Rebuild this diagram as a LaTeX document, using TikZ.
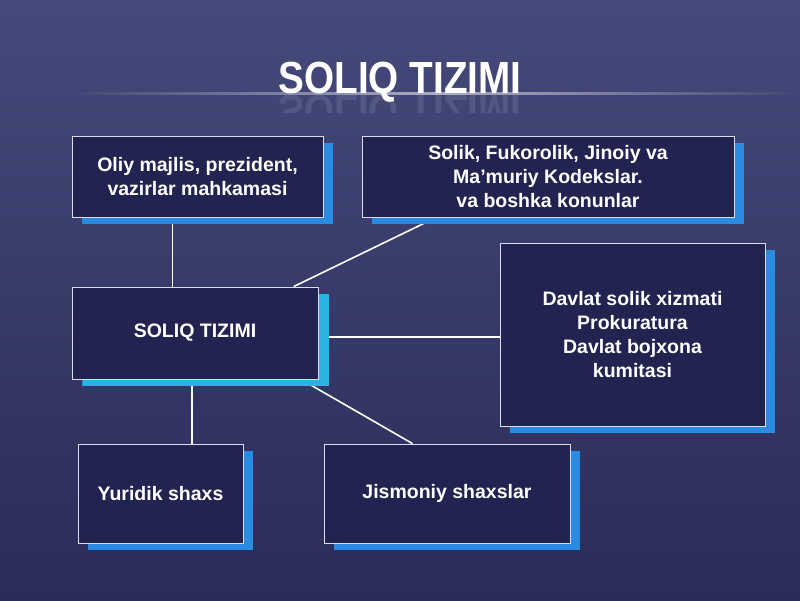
\documentclass[tikz,border=0pt]{standalone}
\usepackage{fontspec}
\setmainfont{Liberation Sans}
\usetikzlibrary{calc,shadows}
\pgfdeclarelayer{back}
\pgfdeclarelayer{lines}
\pgfsetlayers{back,lines,main}
\definecolor{bgtop}{HTML}{454A7A}
\definecolor{bgbot}{HTML}{2A2C5A}
\definecolor{boxfill}{HTML}{222350}
\definecolor{shblue}{HTML}{2A8CE0}
\definecolor{shcyan}{HTML}{2AB4E4}
\definecolor{edge}{HTML}{D8DCF4}
\tikzset{
  box/.style={draw=edge, line width=0.9pt, fill=boxfill, text=white,
    font=\fontsize{19.5}{24}\selectfont\bfseries, align=center, inner sep=0pt,
    general shadow={fill=shblue, shadow xshift=10pt, shadow yshift=-7pt}},
  cbox/.style={box, general shadow={fill=shcyan, shadow xshift=11pt, shadow yshift=-7pt}},
  link/.style={draw=white, line width=1.6pt}
}
\begin{document}
\begin{tikzpicture}[x=1pt,y=-1pt]
\useasboundingbox (0,0) rectangle (800,600);
\begin{pgfonlayer}{back}
\shade[top color=bgtop, bottom color=bgbot] (0,0) rectangle (800,600);
\shade[left color=bgtop, right color=white!70!bgtop, opacity=0.8] (80,92) rectangle (440,94);
\shade[right color=bgtop, left color=white!70!bgtop, opacity=0.8] (440,92) rectangle (790,94);
\end{pgfonlayer}
% title
\node[text=white, font=\fontsize{45}{45}\selectfont\bfseries, xscale=0.86, anchor=base] (title) at (400,93) {SOLIQ TIZIMI};
\begin{scope}
\clip (0,94) rectangle (800,112);
\node[text=white, opacity=0.1, font=\fontsize{45}{45}\selectfont\bfseries, xscale=0.86, yscale=-1, anchor=base] (refl) at (400,95) {SOLIQ TIZIMI};
\end{scope}
% boxes
\node[box, minimum width=251pt, minimum height=81pt] (oliy) at (197.5,176.5) {Oliy majlis, prezident,\\vazirlar mahkamasi};
\node[box, minimum width=372pt, minimum height=81pt] (solik) at (548,176.5) {Solik, Fukorolik, Jinoiy va\\Ma’muriy Kodekslar.\\va boshka konunlar};
\node[cbox, minimum width=246pt, minimum height=92pt] (soliq) at (195,333) {SOLIQ TIZIMI};
\node[box, minimum width=265pt, minimum height=183pt] (davlat) at (632.5,334.5) {Davlat solik xizmati\\Prokuratura\\Davlat bojxona\\kumitasi};
\node[box, minimum width=165pt, minimum height=99pt] (yuridik) at (160.5,493.5) {Yuridik shaxs};
\node[box, minimum width=246pt, minimum height=99pt] (jismoniy) at (447,493.5) {Jismoniy shaxslar};
% connectors
\begin{pgfonlayer}{lines}
\draw[link] ($(oliy.south west)!0.40!(oliy.south east)$) coordinate (otop) -- (otop |- soliq.north);
\draw[link] ($(solik.south west)!0.20!(solik.south east)$) -- ($(soliq.north west)!0.90!(soliq.north east)$);
\draw[link] ([yshift=-4pt]soliq.east) coordinate (sr) -- (sr -| davlat.west);
\draw[link] ($(yuridik.north west)!0.69!(yuridik.north east)$) coordinate (ytop) -- (ytop |- soliq.south);
\draw[link] ($(soliq.south west)!0.93!(soliq.south east)$) -- ($(jismoniy.north west)!0.36!(jismoniy.north east)$);
\end{pgfonlayer}
\end{tikzpicture}
\end{document}
